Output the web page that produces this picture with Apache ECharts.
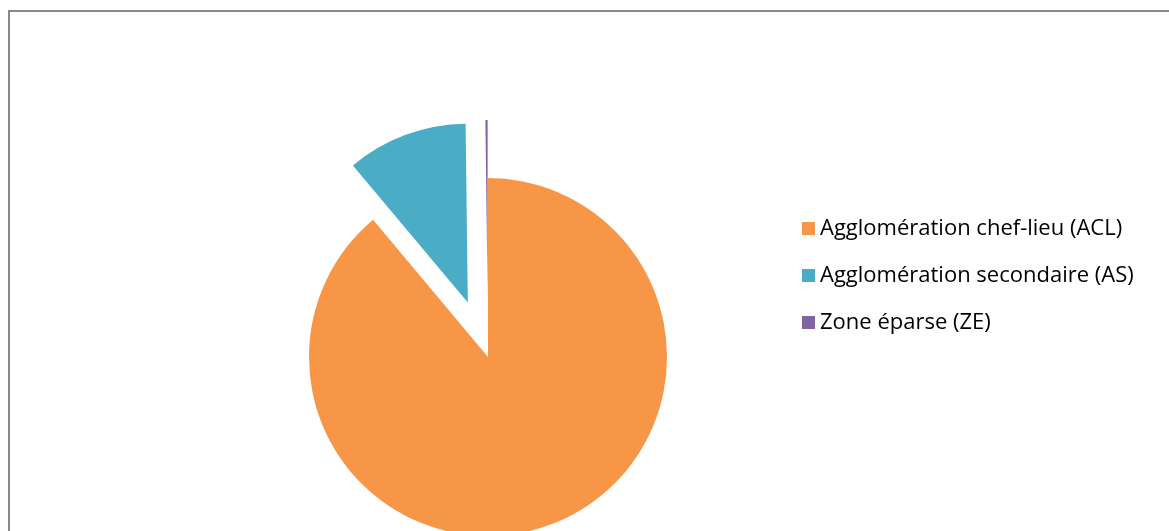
<!DOCTYPE html>
<html>
<head>
<meta charset="utf-8">
<script src="https://cdn.jsdelivr.net/npm/echarts@6/dist/echarts.min.js"></script>
<style>
  html, body { margin: 0; padding: 0; background: #fff; }
  #chart { width: 1169px; height: 531px; }
</style>
</head>
<body>
<div id="chart"></div>
<script>
  // part of each zone (%)
  var zones = ['Agglomération chef-lieu (ACL)', 'Agglomération secondaire (AS)', 'Zone éparse (ZE)']
  var shares = [88.9, 10.9, 0.2]
  var colors = ['#F79646', '#4BACC6', '#8064A2']
  var exploded = [false, true, true]

  var chart = echarts.init(document.getElementById('chart'))

  var pieData = zones.map(function (name, i) {
    return {
      name: name,
      value: shares[i],
      selected: exploded[i],
      itemStyle: { color: colors[i] }
    }
  })

  chart.setOption({
    animation: false,
    graphic: [
      {
        type: 'rect',
        shape: { x: 9, y: 11, width: 1300, height: 700 },
        style: { fill: 'none', stroke: '#898989', lineWidth: 2 },
        silent: true
      }
    ],
    legend: {
      orient: 'vertical',
      left: 797,
      top: 211,
      itemWidth: 13,
      itemHeight: 13,
      itemGap: 22,
      icon: 'rect',
      selectedMode: false,
      textStyle: {
        fontFamily: 'Open Sans',
        fontSize: 22,
        color: '#000',
        lineHeight: 25,
        padding: [0, 0, 0, 0]
      },
      data: zones
    },
    series: [
      {
        type: 'pie',
        center: [488, 357],
        radius: 179,
        startAngle: 90,
        clockwise: true,
        selectedMode: 'multiple',
        selectedOffset: 58,
        avoidLabelOverlap: false,
        label: { show: false },
        labelLine: { show: false },
        itemStyle: { borderWidth: 0 },
        emphasis: { scale: false },
        data: pieData
      }
    ]
  })
</script>
</body>
</html>
